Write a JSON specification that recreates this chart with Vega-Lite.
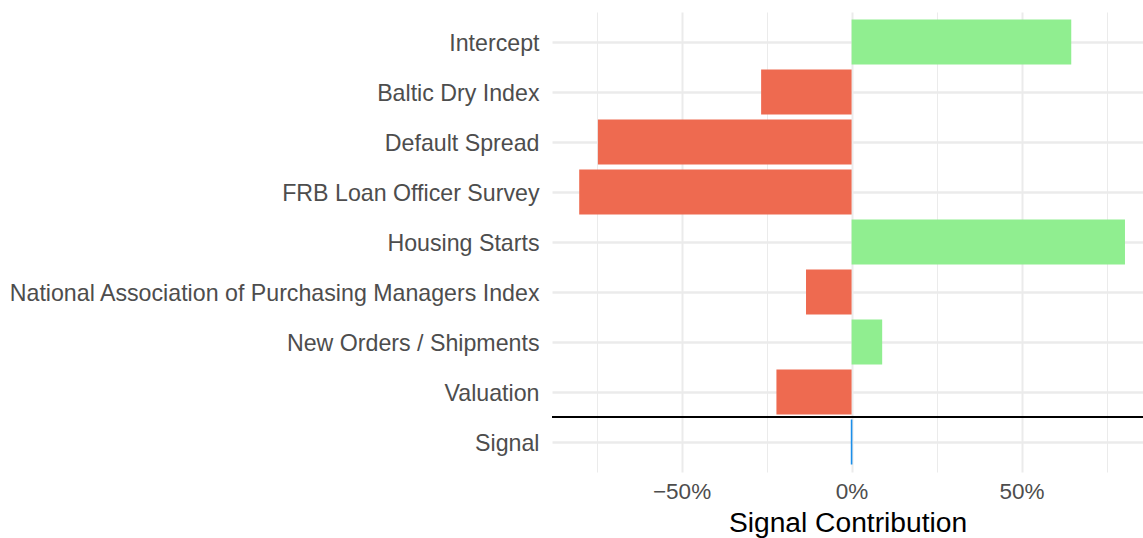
{
  "$schema": "https://vega.github.io/schema/vega-lite/v6.json",
  "width": 591,
  "height": 460,
  "autosize": {"type": "none"},
  "padding": {"left": 552, "top": 12, "right": 0, "bottom": 66},
  "background": "white",
  "config": {"view": {"stroke": null}, "font": "Liberation Sans"},
  "datasets": {
    "contributions": [
      {"variable": "Intercept", "contribution": 0.646, "sign": "positive"},
      {"variable": "Baltic Dry Index", "contribution": -0.266, "sign": "negative"},
      {"variable": "Default Spread", "contribution": -0.746, "sign": "negative"},
      {"variable": "FRB Loan Officer Survey", "contribution": -0.801, "sign": "negative"},
      {"variable": "Housing Starts", "contribution": 0.804, "sign": "positive"},
      {"variable": "National Association of Purchasing Managers Index", "contribution": -0.134, "sign": "negative"},
      {"variable": "New Orders / Shipments", "contribution": 0.09, "sign": "positive"},
      {"variable": "Valuation", "contribution": -0.221, "sign": "negative"},
      {"variable": "Signal", "contribution": 0, "sign": "signal"}
    ],
    "divider": [{"variable": "Valuation"}]
  },
  "encoding": {
    "y": {
      "field": "variable",
      "type": "nominal",
      "sort": null,
      "scale": {
        "domain": ["Intercept", "Baltic Dry Index", "Default Spread", "FRB Loan Officer Survey", "Housing Starts", "National Association of Purchasing Managers Index", "New Orders / Shipments", "Valuation", "Signal"],
        "paddingInner": 0.1,
        "paddingOuter": 0.15
      },
      "axis": {
        "title": null,
        "grid": true,
        "bandPosition": 0.5,
        "gridColor": "#EBEBEB",
        "gridWidth": 2.5,
        "ticks": false,
        "domain": false,
        "labelFontSize": 23.2,
        "labelColor": "#4D4D4D",
        "labelPadding": 13,
        "labelOffset": 1.5,
        "labelLimit": 0
      }
    }
  },
  "layer": [
    {
      "data": {"name": "contributions"},
      "transform": [{"filter": "datum.sign !== 'signal'"}],
      "mark": {"type": "bar"},
      "encoding": {
        "x": {
          "field": "contribution",
          "type": "quantitative",
          "scale": {"domain": [-0.881, 0.857], "nice": false, "zero": false},
          "axis": {
            "format": ".0%",
            "values": [-0.75, -0.5, -0.25, 0, 0.25, 0.5, 0.75],
            "labelExpr": "abs(datum.value) % 0.5 < 1e-6 ? datum.label : ''",
            "grid": true,
            "gridColor": "#EBEBEB",
            "gridWidth": {"condition": {"test": "abs(datum.value) % 0.5 < 1e-6", "value": 2}, "value": 1},
            "ticks": false,
            "domain": false,
            "labelOverlap": false,
            "labelFlush": false,
            "labelFontSize": 22.5,
            "labelColor": "#4D4D4D",
            "labelPadding": 8,
            "title": "Signal Contribution",
            "titleFontSize": 28.2,
            "titleColor": "black",
            "titleFontWeight": "normal",
            "titlePadding": 7
          }
        },
        "x2": {"datum": 0},
        "color": {
          "field": "sign",
          "type": "nominal",
          "scale": {"domain": ["negative", "positive"], "range": ["#EE6A50", "#90EE90"]},
          "legend": null
        }
      }
    },
    {
      "data": {"name": "contributions"},
      "transform": [{"filter": "datum.sign === 'signal'"}],
      "mark": {"type": "bar", "stroke": "#1B8FEA", "fill": "#1B8FEA", "strokeWidth": 1.6},
      "encoding": {
        "x": {"field": "contribution", "type": "quantitative"},
        "x2": {"datum": 0}
      }
    },
    {
      "data": {"name": "divider"},
      "mark": {"type": "rule", "color": "black", "strokeWidth": 2},
      "encoding": {
        "y": {"field": "variable", "type": "nominal", "bandPosition": 1.0556}
      }
    }
  ]
}
